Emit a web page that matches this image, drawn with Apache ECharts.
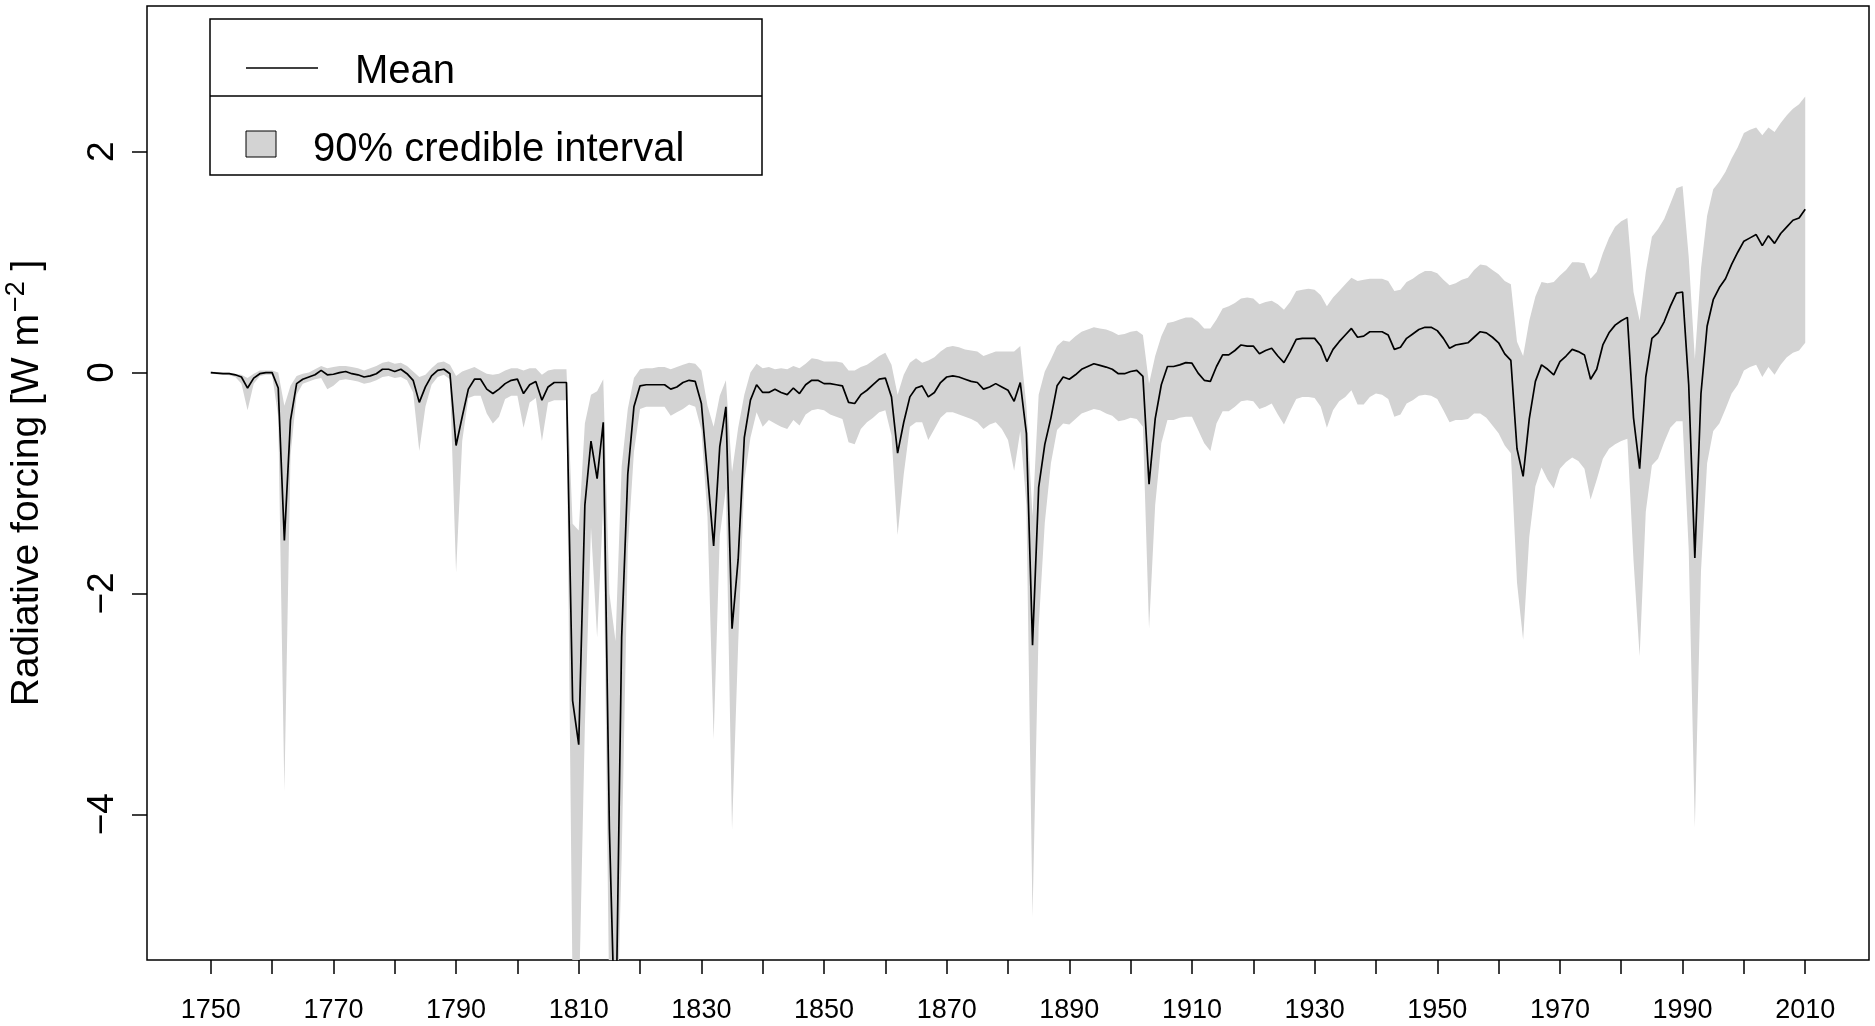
<!DOCTYPE html>
<html>
<head>
<meta charset="utf-8">
<script src="https://cdn.jsdelivr.net/npm/echarts@6/dist/echarts.min.js"></script>
<style>
html,body{margin:0;padding:0;background:#fff;}
#chart{width:1875px;height:1026px;}
</style>
</head>
<body>
<div id="chart"></div>
<script>
// ---- data (one row per decade) ----
const startYear = 1750;
const meanForcing = [
  0, -0.005, -0.01, -0.01, -0.02, -0.04, -0.14, -0.05, -0.01, 0.0,
  0.0, -0.14, -1.52, -0.43, -0.10, -0.06, -0.04, -0.02, 0.02, -0.02,
  -0.015, 0.0, 0.01, -0.01, -0.02, -0.04, -0.03, -0.01, 0.03, 0.03,
  0.01, 0.03, -0.01, -0.07, -0.27, -0.13, -0.03, 0.02, 0.03, -0.01,
  -0.66, -0.40, -0.15, -0.06, -0.06, -0.15, -0.19, -0.15, -0.10, -0.07,
  -0.06, -0.19, -0.11, -0.08, -0.25, -0.13, -0.09, -0.09, -0.09, -2.97,
  -3.37, -1.20, -0.62, -0.96, -0.45, -4.13, -6.2, -2.4, -0.92, -0.31,
  -0.12, -0.11, -0.11, -0.11, -0.11, -0.15, -0.13, -0.09, -0.07, -0.08,
  -0.28, -0.92, -1.57, -0.67, -0.31, -2.32, -1.69, -0.59, -0.25, -0.11,
  -0.18, -0.18, -0.15, -0.18, -0.20, -0.14, -0.19, -0.11, -0.07, -0.07,
  -0.10, -0.10, -0.11, -0.12, -0.27, -0.28, -0.20, -0.16, -0.11, -0.06,
  -0.05, -0.22, -0.73, -0.45, -0.22, -0.14, -0.12, -0.22, -0.18, -0.09,
  -0.04, -0.03, -0.04, -0.06, -0.08, -0.09, -0.15, -0.13, -0.10, -0.13,
  -0.16, -0.26, -0.09, -0.55, -2.47, -1.04, -0.65, -0.41, -0.12, -0.04,
  -0.06, -0.02, 0.03, 0.055, 0.08, 0.065, 0.05, 0.03, -0.01, -0.01,
  0.01, 0.02, -0.035, -1.01, -0.42, -0.11, 0.055, 0.055, 0.07, 0.09,
  0.085, -0.005, -0.07, -0.08, 0.055, 0.16, 0.16, 0.20, 0.25, 0.24,
  0.24, 0.17, 0.20, 0.22, 0.15, 0.09, 0.19, 0.30, 0.31, 0.31,
  0.31, 0.24, 0.10, 0.21, 0.28, 0.34, 0.40, 0.32, 0.33, 0.37,
  0.37, 0.37, 0.34, 0.21, 0.23, 0.31, 0.35, 0.39, 0.41, 0.41,
  0.38, 0.31, 0.22, 0.25, 0.26, 0.27, 0.32, 0.37, 0.36, 0.32,
  0.27, 0.17, 0.11, -0.69, -0.94, -0.42, -0.08, 0.07, 0.03, -0.02,
  0.10, 0.15, 0.21, 0.19, 0.16, -0.06, 0.03, 0.25, 0.36, 0.43,
  0.47, 0.50, -0.41, -0.87, -0.04, 0.31, 0.36, 0.46, 0.60, 0.72,
  0.73, -0.11, -1.68, -0.19, 0.42, 0.66, 0.77, 0.85, 0.98, 1.09,
  1.19, 1.22, 1.25, 1.15, 1.24, 1.17, 1.26, 1.32, 1.38, 1.40,
  1.48
];
const upperForcing = [
  0.01, 0.005, 0.0, 0.0, -0.01, -0.02, -0.05, -0.01, 0.02, 0.02,
  0.02, 0.0, -0.3, -0.12, -0.03, -0.01, 0.0, 0.03, 0.06, 0.04,
  0.05, 0.06, 0.06, 0.05, 0.04, 0.02, 0.04, 0.06, 0.09, 0.10,
  0.08, 0.09, 0.06, 0.01, -0.04, -0.02, 0.04, 0.09, 0.10, 0.07,
  -0.03, 0.01, 0.03, 0.05, 0.02, -0.01, -0.02, -0.01, 0.02, 0.04,
  0.04, 0.02, 0.04, 0.04, -0.02, 0.02, 0.03, 0.03, 0.03, -1.37,
  -1.43, -0.46, -0.20, -0.17, -0.06, -2.0, -2.43, -0.85, -0.33, -0.05,
  0.03, 0.04, 0.04, 0.05, 0.05, 0.03, 0.05, 0.07, 0.09, 0.08,
  0.02, -0.30, -0.49, -0.21, -0.07, -0.9, -0.5, -0.20, 0.0, 0.08,
  0.04, 0.05, 0.03, 0.04, 0.03, 0.06, 0.04, 0.08, 0.13, 0.12,
  0.10, 0.10, 0.10, 0.09, 0.02, 0.02, 0.05, 0.07, 0.11, 0.15,
  0.18, 0.07, -0.20, -0.02, 0.09, 0.13, 0.09, 0.11, 0.14, 0.19,
  0.23, 0.24, 0.23, 0.21, 0.20, 0.19, 0.15, 0.17, 0.19, 0.19,
  0.19, 0.19, 0.24, -0.3, -1.3, -0.2, 0.01, 0.12, 0.24, 0.29,
  0.28, 0.33, 0.37, 0.39, 0.41, 0.40, 0.39, 0.37, 0.34, 0.35,
  0.37, 0.38, 0.34, -0.1, 0.15, 0.33, 0.45, 0.46, 0.48, 0.50,
  0.50, 0.46, 0.40, 0.40, 0.48, 0.58, 0.60, 0.63, 0.67, 0.68,
  0.67, 0.62, 0.64, 0.65, 0.62, 0.57, 0.64, 0.74, 0.75, 0.76,
  0.75, 0.70, 0.60, 0.68, 0.74, 0.80, 0.86, 0.83, 0.84, 0.85,
  0.85, 0.85, 0.83, 0.74, 0.75, 0.82, 0.85, 0.89, 0.92, 0.92,
  0.90, 0.84, 0.79, 0.81, 0.84, 0.86, 0.93, 0.98, 0.97, 0.93,
  0.89, 0.83, 0.80, 0.28, 0.15, 0.47, 0.69, 0.82, 0.81, 0.82,
  0.88, 0.93, 1.00, 1.00, 0.99, 0.85, 0.91, 1.08, 1.22, 1.32,
  1.37, 1.40, 0.73, 0.47, 0.91, 1.23, 1.30, 1.39, 1.53, 1.67,
  1.69, 1.05, 0.12, 0.94, 1.42, 1.66, 1.73, 1.82, 1.94, 2.04,
  2.17, 2.20, 2.22, 2.15, 2.22, 2.18, 2.26, 2.33, 2.39, 2.43,
  2.50
];
const lowerForcing = [
  -0.01, -0.015, -0.02, -0.025, -0.04, -0.1, -0.34, -0.1, -0.03, -0.02,
  -0.02, -0.4, -3.79, -0.75, -0.2, -0.1, -0.08, -0.06, -0.05, -0.15,
  -0.12, -0.07, -0.06, -0.07, -0.08, -0.1, -0.09, -0.07, -0.04, -0.03,
  -0.05, -0.04, -0.07, -0.18, -0.71, -0.31, -0.11, -0.04, -0.02, -0.06,
  -1.81, -0.62, -0.23, -0.21, -0.21, -0.37, -0.46, -0.40, -0.24, -0.21,
  -0.21, -0.50, -0.27, -0.23, -0.62, -0.27, -0.25, -0.25, -0.25, -5.6,
  -5.8, -3.2, -1.4, -2.4, -1.2, -5.8, -6.5, -4.4, -1.6, -0.72,
  -0.33, -0.31, -0.31, -0.31, -0.31, -0.39, -0.36, -0.33, -0.29, -0.31,
  -0.52, -1.31, -3.32, -1.48, -1.05, -4.14, -2.46, -0.98, -0.59, -0.36,
  -0.49, -0.43, -0.46, -0.49, -0.51, -0.43, -0.48, -0.38, -0.34, -0.33,
  -0.34, -0.38, -0.40, -0.42, -0.63, -0.65, -0.51, -0.45, -0.41, -0.36,
  -0.34, -0.57, -1.47, -0.92, -0.49, -0.45, -0.45, -0.61, -0.51, -0.41,
  -0.36, -0.36, -0.38, -0.40, -0.42, -0.45, -0.51, -0.47, -0.45, -0.51,
  -0.61, -0.89, -0.53, -1.2, -4.93, -2.3, -1.36, -0.82, -0.52, -0.46,
  -0.47, -0.42, -0.37, -0.35, -0.33, -0.34, -0.37, -0.39, -0.44, -0.43,
  -0.41, -0.42, -0.49, -2.32, -1.2, -0.64, -0.43, -0.43, -0.41, -0.40,
  -0.40, -0.52, -0.64, -0.71, -0.46, -0.35, -0.35, -0.31, -0.26, -0.25,
  -0.26, -0.33, -0.31, -0.28, -0.38, -0.47, -0.35, -0.24, -0.22, -0.22,
  -0.23, -0.31, -0.50, -0.34, -0.26, -0.22, -0.16, -0.29, -0.29, -0.22,
  -0.19, -0.20, -0.24, -0.40, -0.38, -0.28, -0.25, -0.21, -0.20, -0.21,
  -0.24, -0.34, -0.45, -0.43, -0.43, -0.42, -0.37, -0.37, -0.41, -0.48,
  -0.55, -0.66, -0.73, -1.90, -2.42, -1.49, -1.03, -0.86, -0.97, -1.05,
  -0.87, -0.81, -0.77, -0.80, -0.87, -1.15, -0.97, -0.78, -0.69, -0.65,
  -0.62, -0.60, -1.7, -2.57, -1.26, -0.84, -0.78, -0.63, -0.50, -0.44,
  -0.44, -1.6, -4.12, -1.8, -0.82, -0.53, -0.46, -0.33, -0.19, -0.11,
  0.02, 0.05, 0.07, -0.04, 0.05, -0.02, 0.07, 0.14, 0.18, 0.20,
  0.27
];
const xTickValues = [1750,1760,1770,1780,1790,1800,1810,1820,1830,1840,1850,1860,1870,1880,1890,1900,1910,1920,1930,1940,1950,1960,1970,1980,1990,2000,2010];
const xLabelValues = [1750,1770,1790,1810,1830,1850,1870,1890,1910,1930,1950,1970,1990,2010];
const yTickValues = [-4, -2, 0, 2];
const legendLabels = ['Mean', '90% credible interval'];

// ---- build series data ----
const years = meanForcing.map((_, i) => startYear + i);
const meanData = years.map((y, i) => [y, meanForcing[i]]);
const bandData = years.map((y, i) => [y, lowerForcing[i], upperForcing[i]]);

const FONT = '"Liberation Sans", Arial, Helvetica, sans-serif';
const BAND = '#d3d3d3';

function renderBand(params, api) {
  if (params.dataIndex !== 0) return null;
  const n = params.dataInsideLength !== undefined ? bandData.length : bandData.length;
  const pts = [];
  for (let i = 0; i < n; i++) pts.push(api.coord([bandData[i][0], bandData[i][2]]));
  for (let i = n - 1; i >= 0; i--) pts.push(api.coord([bandData[i][0], bandData[i][1]]));
  const cs = params.coordSys;
  return {
    type: 'polygon',
    shape: {points: pts},
    style: {fill: BAND, stroke: null},
    clipPath: {type: 'rect', shape: {x: cs.x, y: cs.y, width: cs.width, height: cs.height}}
  };
}

const chart = echarts.init(document.getElementById('chart'), null, {renderer: 'canvas'});
chart.setOption({
  animation: false,
  backgroundColor: '#ffffff',
  grid: {
    left: 147, right: 6, top: 6, bottom: 66,
    show: true, borderColor: '#000', borderWidth: 1.5,
    containLabel: false, outerBoundsMode: 'none'
  },
  xAxis: {
    type: 'value', min: 1739.6, max: 2020.4,
    axisLine: {show: false, onZero: false},
    splitLine: {show: false},
    axisTick: {show: true, customValues: xTickValues, length: 14, lineStyle: {color: '#000', width: 1.5}},
    axisLabel: {customValues: xLabelValues, color: '#000', fontSize: 27, fontFamily: FONT, margin: 37,
      formatter: v => String(v)}
  },
  yAxis: {
    type: 'value', min: -5.32, max: 3.32,
    axisLine: {show: false, onZero: false},
    splitLine: {show: false},
    axisTick: {show: true, customValues: yTickValues, length: 15, lineStyle: {color: '#000', width: 1.5}},
    axisLabel: {
      customValues: yTickValues, rotate: 90, color: '#000', fontSize: 37, fontFamily: FONT, margin: 26,
      formatter: v => (v < 0 ? '\u2212' + Math.abs(v) : String(v))
    },
    name: '{t|Radiative forcing [W m}{s|\u22122}{t| ]}', nameLocation: 'middle', nameGap: 100, nameRotate: 90,
    nameTextStyle: {
      color: '#000', fontSize: 39, fontFamily: FONT,
      rich: {
        t: {fontSize: 39, fontFamily: FONT, color: '#000', lineHeight: 44, verticalAlign: 'bottom'},
        s: {fontSize: 27, fontFamily: FONT, color: '#000', lineHeight: 44, verticalAlign: 'top', padding: [0, 0, 14, 2]}
      }
    }
  },
  series: [
    {
      type: 'custom', name: 'band', data: bandData,
      encode: {x: 0, y: [1, 2]},
      renderItem: renderBand, clip: true, silent: true, z: 1
    },
    {
      type: 'line', name: 'mean', data: meanData, symbol: 'none', showSymbol: false,
      lineStyle: {color: '#000', width: 1.7}, clip: true, z: 3
    }
  ],
  graphic: [
    {type: 'rect', shape: {x: 210, y: 19, width: 552, height: 156}, style: {fill: '#fff', stroke: '#000', lineWidth: 1.5}, z: 100},
    {type: 'line', shape: {x1: 210, y1: 96, x2: 762, y2: 96}, style: {stroke: '#000', lineWidth: 1.5}, z: 101},
    {type: 'line', shape: {x1: 246, y1: 68, x2: 318, y2: 68}, style: {stroke: '#000', lineWidth: 1.5}, z: 101},
    {type: 'text', x: 355, y: 72, style: {text: legendLabels[0], fill: '#000', font: '40px ' + FONT, verticalAlign: 'middle'}, z: 101},
    {type: 'rect', shape: {x: 246, y: 131, width: 30, height: 26}, style: {fill: BAND, stroke: '#000', lineWidth: 1}, z: 101},
    {type: 'text', x: 313, y: 150, style: {text: legendLabels[1], fill: '#000', font: '40px ' + FONT, verticalAlign: 'middle'}, z: 101}
  ]
});
</script>
</body>
</html>
